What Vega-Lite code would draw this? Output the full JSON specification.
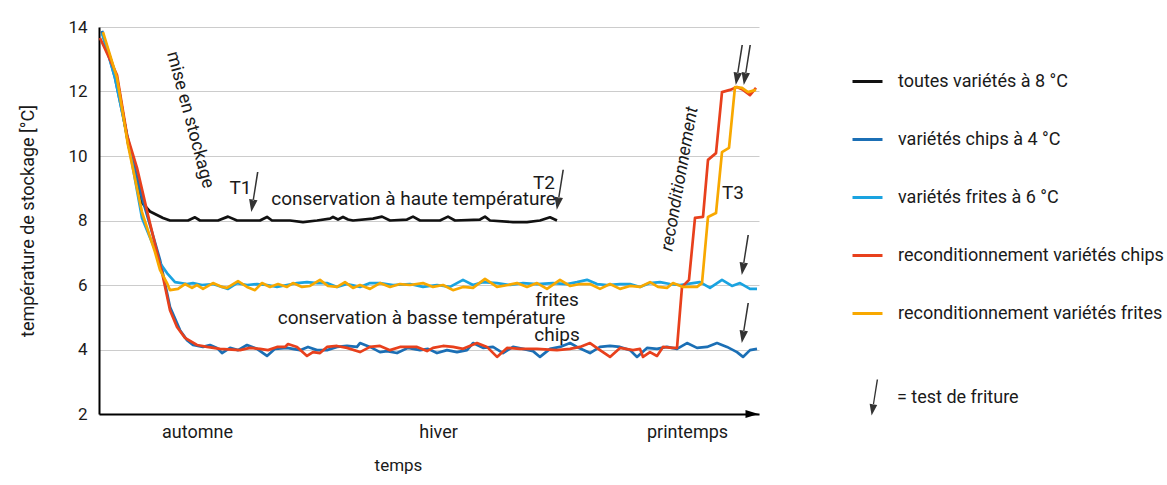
{
  "$schema": "https://vega.github.io/schema/vega-lite/v6.json",
  "width": 660,
  "height": 387,
  "autosize": {"type": "none"},
  "padding": {"left": 99, "top": 27, "right": 408, "bottom": 71},
  "background": "white",
  "config": {
    "view": {"stroke": null},
    "font": "Roboto",
    "text": {"color": "#1a1a1a"},
    "axis": {"labelColor": "#1a1a1a", "titleColor": "#1a1a1a", "titleFontWeight": "normal"},
    "legend": {"labelColor": "#1a1a1a"}
  },
  "datasets": {
    "lignes": [
      {"serie":"toutes variétés à 8 °C","t":3,"temp":13.85},{"serie":"toutes variétés à 8 °C","t":18,"temp":12.4},{"serie":"toutes variétés à 8 °C","t":29,"temp":10.4},{"serie":"toutes variétés à 8 °C","t":43,"temp":8.55},{"serie":"toutes variétés à 8 °C","t":51,"temp":8.28},{"serie":"toutes variétés à 8 °C","t":64,"temp":8.08},{"serie":"toutes variétés à 8 °C","t":71,"temp":8.0},{"serie":"toutes variétés à 8 °C","t":89,"temp":8.0},{"serie":"toutes variétés à 8 °C","t":96,"temp":8.1},{"serie":"toutes variétés à 8 °C","t":101,"temp":8.0},{"serie":"toutes variétés à 8 °C","t":119,"temp":8.0},{"serie":"toutes variétés à 8 °C","t":129,"temp":8.12},{"serie":"toutes variétés à 8 °C","t":138,"temp":8.0},{"serie":"toutes variétés à 8 °C","t":161,"temp":8.0},{"serie":"toutes variétés à 8 °C","t":168,"temp":8.11},{"serie":"toutes variétés à 8 °C","t":173,"temp":8.0},{"serie":"toutes variétés à 8 °C","t":191,"temp":8.0},{"serie":"toutes variétés à 8 °C","t":204,"temp":7.95},{"serie":"toutes variétés à 8 °C","t":218,"temp":8.0},{"serie":"toutes variétés à 8 °C","t":231,"temp":8.06},{"serie":"toutes variétés à 8 °C","t":234,"temp":8.11},{"serie":"toutes variétés à 8 °C","t":239,"temp":8.03},{"serie":"toutes variétés à 8 °C","t":244,"temp":8.11},{"serie":"toutes variétés à 8 °C","t":249,"temp":8.03},{"serie":"toutes variétés à 8 °C","t":254,"temp":8.0},{"serie":"toutes variétés à 8 °C","t":274,"temp":8.06},{"serie":"toutes variétés à 8 °C","t":283,"temp":8.12},{"serie":"toutes variétés à 8 °C","t":291,"temp":8.0},{"serie":"toutes variétés à 8 °C","t":308,"temp":8.03},{"serie":"toutes variétés à 8 °C","t":314,"temp":8.12},{"serie":"toutes variétés à 8 °C","t":321,"temp":8.0},{"serie":"toutes variétés à 8 °C","t":341,"temp":8.0},{"serie":"toutes variétés à 8 °C","t":349,"temp":8.12},{"serie":"toutes variétés à 8 °C","t":356,"temp":8.0},{"serie":"toutes variétés à 8 °C","t":381,"temp":8.03},{"serie":"toutes variétés à 8 °C","t":386,"temp":8.12},{"serie":"toutes variétés à 8 °C","t":391,"temp":8.0},{"serie":"toutes variétés à 8 °C","t":414,"temp":7.95},{"serie":"toutes variétés à 8 °C","t":428,"temp":7.95},{"serie":"toutes variétés à 8 °C","t":441,"temp":8.0},{"serie":"toutes variétés à 8 °C","t":451,"temp":8.1},{"serie":"toutes variétés à 8 °C","t":458,"temp":8.0},

      {"serie":"variétés chips à 4 °C","t":3,"temp":13.88},{"serie":"variétés chips à 4 °C","t":16,"temp":12.42},{"serie":"variétés chips à 4 °C","t":28,"temp":10.65},{"serie":"variétés chips à 4 °C","t":43,"temp":8.7},{"serie":"variétés chips à 4 °C","t":51,"temp":7.86},{"serie":"variétés chips à 4 °C","t":61,"temp":6.78},{"serie":"variétés chips à 4 °C","t":71,"temp":5.32},{"serie":"variétés chips à 4 °C","t":81,"temp":4.6},{"serie":"variétés chips à 4 °C","t":88,"temp":4.29},{"serie":"variétés chips à 4 °C","t":94,"temp":4.14},{"serie":"variétés chips à 4 °C","t":104,"temp":4.08},{"serie":"variétés chips à 4 °C","t":111,"temp":4.14},{"serie":"variétés chips à 4 °C","t":118,"temp":4.05},{"serie":"variétés chips à 4 °C","t":123,"temp":3.89},{"serie":"variétés chips à 4 °C","t":131,"temp":4.05},{"serie":"variétés chips à 4 °C","t":139,"temp":3.98},{"serie":"variétés chips à 4 °C","t":148,"temp":4.14},{"serie":"variétés chips à 4 °C","t":158,"temp":4.02},{"serie":"variétés chips à 4 °C","t":168,"temp":3.8},{"serie":"variétés chips à 4 °C","t":176,"temp":4.02},{"serie":"variétés chips à 4 °C","t":188,"temp":4.05},{"serie":"variétés chips à 4 °C","t":201,"temp":3.98},{"serie":"variétés chips à 4 °C","t":209,"temp":4.08},{"serie":"variétés chips à 4 °C","t":218,"temp":3.98},{"serie":"variétés chips à 4 °C","t":228,"temp":3.98},{"serie":"variétés chips à 4 °C","t":238,"temp":4.08},{"serie":"variétés chips à 4 °C","t":248,"temp":4.11},{"serie":"variétés chips à 4 °C","t":258,"temp":4.08},{"serie":"variétés chips à 4 °C","t":261,"temp":4.2},{"serie":"variétés chips à 4 °C","t":271,"temp":4.08},{"serie":"variétés chips à 4 °C","t":281,"temp":3.92},{"serie":"variétés chips à 4 °C","t":288,"temp":3.95},{"serie":"variétés chips à 4 °C","t":298,"temp":3.89},{"serie":"variétés chips à 4 °C","t":309,"temp":4.05},{"serie":"variétés chips à 4 °C","t":321,"temp":3.98},{"serie":"variétés chips à 4 °C","t":329,"temp":4.02},{"serie":"variétés chips à 4 °C","t":338,"temp":3.89},{"serie":"variétés chips à 4 °C","t":348,"temp":3.98},{"serie":"variétés chips à 4 °C","t":358,"temp":3.92},{"serie":"variétés chips à 4 °C","t":368,"temp":3.98},{"serie":"variétés chips à 4 °C","t":374,"temp":4.2},{"serie":"variétés chips à 4 °C","t":384,"temp":4.05},{"serie":"variétés chips à 4 °C","t":394,"temp":4.08},{"serie":"variétés chips à 4 °C","t":404,"temp":3.89},{"serie":"variétés chips à 4 °C","t":414,"temp":4.08},{"serie":"variétés chips à 4 °C","t":424,"temp":4.02},{"serie":"variétés chips à 4 °C","t":434,"temp":3.95},{"serie":"variétés chips à 4 °C","t":441,"temp":3.77},{"serie":"variétés chips à 4 °C","t":451,"temp":4.02},{"serie":"variétés chips à 4 °C","t":461,"temp":4.08},{"serie":"variétés chips à 4 °C","t":471,"temp":4.2},{"serie":"variétés chips à 4 °C","t":478,"temp":4.08},{"serie":"variétés chips à 4 °C","t":491,"temp":3.89},{"serie":"variétés chips à 4 °C","t":501,"temp":4.08},{"serie":"variétés chips à 4 °C","t":511,"temp":4.11},{"serie":"variétés chips à 4 °C","t":521,"temp":4.08},{"serie":"variétés chips à 4 °C","t":531,"temp":3.98},{"serie":"variétés chips à 4 °C","t":538,"temp":3.77},{"serie":"variétés chips à 4 °C","t":548,"temp":4.05},{"serie":"variétés chips à 4 °C","t":558,"temp":4.02},{"serie":"variétés chips à 4 °C","t":568,"temp":4.08},{"serie":"variétés chips à 4 °C","t":578,"temp":4.02},{"serie":"variétés chips à 4 °C","t":588,"temp":4.2},{"serie":"variétés chips à 4 °C","t":598,"temp":4.05},{"serie":"variétés chips à 4 °C","t":608,"temp":4.08},{"serie":"variétés chips à 4 °C","t":618,"temp":4.2},{"serie":"variétés chips à 4 °C","t":628,"temp":4.08},{"serie":"variétés chips à 4 °C","t":638,"temp":3.92},{"serie":"variétés chips à 4 °C","t":644,"temp":3.77},{"serie":"variétés chips à 4 °C","t":651,"temp":3.98},{"serie":"variétés chips à 4 °C","t":658,"temp":4.02},

      {"serie":"variétés frites à 6 °C","t":3,"temp":13.81},{"serie":"variétés frites à 6 °C","t":16,"temp":12.42},{"serie":"variétés frites à 6 °C","t":28,"temp":10.65},{"serie":"variétés frites à 6 °C","t":43,"temp":8.08},{"serie":"variétés frites à 6 °C","t":56,"temp":7.09},{"serie":"variétés frites à 6 °C","t":61,"temp":6.68},{"serie":"variétés frites à 6 °C","t":68,"temp":6.37},{"serie":"variétés frites à 6 °C","t":76,"temp":6.09},{"serie":"variétés frites à 6 °C","t":88,"temp":6.03},{"serie":"variétés frites à 6 °C","t":94,"temp":6.06},{"serie":"variétés frites à 6 °C","t":103,"temp":6.0},{"serie":"variétés frites à 6 °C","t":114,"temp":6.03},{"serie":"variétés frites à 6 °C","t":123,"temp":5.94},{"serie":"variétés frites à 6 °C","t":129,"temp":5.88},{"serie":"variétés frites à 6 °C","t":138,"temp":6.06},{"serie":"variétés frites à 6 °C","t":148,"temp":6.0},{"serie":"variétés frites à 6 °C","t":158,"temp":6.03},{"serie":"variétés frites à 6 °C","t":168,"temp":6.0},{"serie":"variétés frites à 6 °C","t":178,"temp":5.94},{"serie":"variétés frites à 6 °C","t":188,"temp":6.0},{"serie":"variétés frites à 6 °C","t":198,"temp":6.06},{"serie":"variétés frites à 6 °C","t":208,"temp":6.09},{"serie":"variétés frites à 6 °C","t":218,"temp":6.06},{"serie":"variétés frites à 6 °C","t":228,"temp":6.06},{"serie":"variétés frites à 6 °C","t":238,"temp":5.94},{"serie":"variétés frites à 6 °C","t":248,"temp":6.03},{"serie":"variétés frites à 6 °C","t":261,"temp":5.94},{"serie":"variétés frites à 6 °C","t":271,"temp":6.06},{"serie":"variétés frites à 6 °C","t":281,"temp":6.06},{"serie":"variétés frites à 6 °C","t":294,"temp":6.0},{"serie":"variétés frites à 6 °C","t":311,"temp":6.03},{"serie":"variétés frites à 6 °C","t":324,"temp":5.94},{"serie":"variétés frites à 6 °C","t":338,"temp":6.0},{"serie":"variétés frites à 6 °C","t":351,"temp":5.94},{"serie":"variétés frites à 6 °C","t":364,"temp":6.16},{"serie":"variétés frites à 6 °C","t":374,"temp":6.0},{"serie":"variétés frites à 6 °C","t":384,"temp":6.09},{"serie":"variétés frites à 6 °C","t":398,"temp":6.06},{"serie":"variétés frites à 6 °C","t":411,"temp":6.0},{"serie":"variétés frites à 6 °C","t":424,"temp":6.06},{"serie":"variétés frites à 6 °C","t":438,"temp":6.03},{"serie":"variétés frites à 6 °C","t":454,"temp":6.06},{"serie":"variétés frites à 6 °C","t":468,"temp":6.03},{"serie":"variétés frites à 6 °C","t":478,"temp":6.09},{"serie":"variétés frites à 6 °C","t":488,"temp":6.16},{"serie":"variétés frites à 6 °C","t":498,"temp":6.03},{"serie":"variétés frites à 6 °C","t":508,"temp":6.0},{"serie":"variétés frites à 6 °C","t":521,"temp":6.03},{"serie":"variétés frites à 6 °C","t":531,"temp":6.03},{"serie":"variétés frites à 6 °C","t":541,"temp":5.94},{"serie":"variétés frites à 6 °C","t":551,"temp":6.06},{"serie":"variétés frites à 6 °C","t":561,"temp":6.09},{"serie":"variétés frites à 6 °C","t":571,"temp":6.03},{"serie":"variétés frites à 6 °C","t":581,"temp":6.0},{"serie":"variétés frites à 6 °C","t":594,"temp":6.06},{"serie":"variétés frites à 6 °C","t":601,"temp":6.09},{"serie":"variétés frites à 6 °C","t":611,"temp":5.91},{"serie":"variétés frites à 6 °C","t":623,"temp":6.16},{"serie":"variétés frites à 6 °C","t":633,"temp":5.97},{"serie":"variétés frites à 6 °C","t":641,"temp":6.06},{"serie":"variétés frites à 6 °C","t":651,"temp":5.88},{"serie":"variétés frites à 6 °C","t":658,"temp":5.88},

      {"serie":"reconditionnement variétés chips","t":1,"temp":13.66},{"serie":"reconditionnement variétés chips","t":18,"temp":12.51},{"serie":"reconditionnement variétés chips","t":28,"temp":10.65},{"serie":"reconditionnement variétés chips","t":38,"temp":9.63},{"serie":"reconditionnement variétés chips","t":49,"temp":8.17},{"serie":"reconditionnement variétés chips","t":64,"temp":6.25},{"serie":"reconditionnement variétés chips","t":71,"temp":5.22},{"serie":"reconditionnement variétés chips","t":78,"temp":4.7},{"serie":"reconditionnement variétés chips","t":86,"temp":4.36},{"serie":"reconditionnement variétés chips","t":98,"temp":4.14},{"serie":"reconditionnement variétés chips","t":108,"temp":4.08},{"serie":"reconditionnement variétés chips","t":121,"temp":4.02},{"serie":"reconditionnement variétés chips","t":141,"temp":3.98},{"serie":"reconditionnement variétés chips","t":151,"temp":4.05},{"serie":"reconditionnement variétés chips","t":161,"temp":4.02},{"serie":"reconditionnement variétés chips","t":169,"temp":3.98},{"serie":"reconditionnement variétés chips","t":178,"temp":4.08},{"serie":"reconditionnement variétés chips","t":186,"temp":4.08},{"serie":"reconditionnement variétés chips","t":189,"temp":4.17},{"serie":"reconditionnement variétés chips","t":198,"temp":4.08},{"serie":"reconditionnement variétés chips","t":208,"temp":3.8},{"serie":"reconditionnement variétés chips","t":214,"temp":3.92},{"serie":"reconditionnement variétés chips","t":221,"temp":3.89},{"serie":"reconditionnement variétés chips","t":228,"temp":4.08},{"serie":"reconditionnement variétés chips","t":238,"temp":4.11},{"serie":"reconditionnement variétés chips","t":248,"temp":4.05},{"serie":"reconditionnement variétés chips","t":261,"temp":3.92},{"serie":"reconditionnement variétés chips","t":271,"temp":4.08},{"serie":"reconditionnement variétés chips","t":281,"temp":4.11},{"serie":"reconditionnement variétés chips","t":291,"temp":3.98},{"serie":"reconditionnement variétés chips","t":301,"temp":4.08},{"serie":"reconditionnement variétés chips","t":318,"temp":4.08},{"serie":"reconditionnement variétés chips","t":328,"temp":3.95},{"serie":"reconditionnement variétés chips","t":334,"temp":4.05},{"serie":"reconditionnement variétés chips","t":344,"temp":4.11},{"serie":"reconditionnement variétés chips","t":354,"temp":4.08},{"serie":"reconditionnement variétés chips","t":364,"temp":4.02},{"serie":"reconditionnement variétés chips","t":378,"temp":4.2},{"serie":"reconditionnement variétés chips","t":388,"temp":4.08},{"serie":"reconditionnement variétés chips","t":398,"temp":3.77},{"serie":"reconditionnement variétés chips","t":408,"temp":4.05},{"serie":"reconditionnement variétés chips","t":421,"temp":4.02},{"serie":"reconditionnement variétés chips","t":438,"temp":4.02},{"serie":"reconditionnement variétés chips","t":458,"temp":3.98},{"serie":"reconditionnement variétés chips","t":471,"temp":4.02},{"serie":"reconditionnement variétés chips","t":481,"temp":4.08},{"serie":"reconditionnement variétés chips","t":491,"temp":4.2},{"serie":"reconditionnement variétés chips","t":501,"temp":3.98},{"serie":"reconditionnement variétés chips","t":511,"temp":3.77},{"serie":"reconditionnement variétés chips","t":521,"temp":4.05},{"serie":"reconditionnement variétés chips","t":534,"temp":3.98},{"serie":"reconditionnement variétés chips","t":541,"temp":4.02},{"serie":"reconditionnement variétés chips","t":544,"temp":3.77},{"serie":"reconditionnement variétés chips","t":551,"temp":3.92},{"serie":"reconditionnement variétés chips","t":558,"temp":3.8},{"serie":"reconditionnement variétés chips","t":564,"temp":4.08},{"serie":"reconditionnement variétés chips","t":573,"temp":4.05},{"serie":"reconditionnement variétés chips","t":578,"temp":4.05},{"serie":"reconditionnement variétés chips","t":583,"temp":5.94},{"serie":"reconditionnement variétés chips","t":590,"temp":6.16},{"serie":"reconditionnement variétés chips","t":596,"temp":8.08},{"serie":"reconditionnement variétés chips","t":604,"temp":8.11},{"serie":"reconditionnement variétés chips","t":609,"temp":9.88},{"serie":"reconditionnement variétés chips","t":617,"temp":10.09},{"serie":"reconditionnement variétés chips","t":623,"temp":11.98},{"serie":"reconditionnement variétés chips","t":631,"temp":12.05},{"serie":"reconditionnement variétés chips","t":638,"temp":12.14},{"serie":"reconditionnement variétés chips","t":644,"temp":12.05},{"serie":"reconditionnement variétés chips","t":651,"temp":11.89},{"serie":"reconditionnement variétés chips","t":657,"temp":12.11},

      {"serie":"reconditionnement variétés frites","t":4,"temp":13.84},{"serie":"reconditionnement variétés frites","t":18,"temp":12.42},{"serie":"reconditionnement variétés frites","t":29,"temp":10.34},{"serie":"reconditionnement variétés frites","t":43,"temp":8.26},{"serie":"reconditionnement variétés frites","t":56,"temp":7.02},{"serie":"reconditionnement variétés frites","t":61,"temp":6.47},{"serie":"reconditionnement variétés frites","t":68,"temp":6.06},{"serie":"reconditionnement variétés frites","t":71,"temp":5.84},{"serie":"reconditionnement variétés frites","t":79,"temp":5.88},{"serie":"reconditionnement variétés frites","t":86,"temp":6.03},{"serie":"reconditionnement variétés frites","t":93,"temp":5.91},{"serie":"reconditionnement variétés frites","t":98,"temp":6.0},{"serie":"reconditionnement variétés frites","t":104,"temp":5.88},{"serie":"reconditionnement variétés frites","t":114,"temp":6.06},{"serie":"reconditionnement variétés frites","t":123,"temp":5.94},{"serie":"reconditionnement variétés frites","t":128,"temp":5.91},{"serie":"reconditionnement variétés frites","t":139,"temp":6.12},{"serie":"reconditionnement variétés frites","t":148,"temp":5.94},{"serie":"reconditionnement variétés frites","t":156,"temp":5.84},{"serie":"reconditionnement variétés frites","t":163,"temp":6.06},{"serie":"reconditionnement variétés frites","t":171,"temp":5.94},{"serie":"reconditionnement variétés frites","t":179,"temp":6.03},{"serie":"reconditionnement variétés frites","t":188,"temp":5.94},{"serie":"reconditionnement variétés frites","t":194,"temp":6.06},{"serie":"reconditionnement variétés frites","t":203,"temp":5.94},{"serie":"reconditionnement variétés frites","t":211,"temp":5.97},{"serie":"reconditionnement variétés frites","t":221,"temp":6.16},{"serie":"reconditionnement variétés frites","t":229,"temp":5.97},{"serie":"reconditionnement variétés frites","t":238,"temp":5.94},{"serie":"reconditionnement variétés frites","t":246,"temp":6.09},{"serie":"reconditionnement variétés frites","t":254,"temp":5.91},{"serie":"reconditionnement variétés frites","t":261,"temp":6.0},{"serie":"reconditionnement variétés frites","t":271,"temp":5.88},{"serie":"reconditionnement variétés frites","t":281,"temp":6.06},{"serie":"reconditionnement variétés frites","t":291,"temp":5.94},{"serie":"reconditionnement variétés frites","t":301,"temp":6.03},{"serie":"reconditionnement variétés frites","t":311,"temp":6.0},{"serie":"reconditionnement variétés frites","t":324,"temp":6.06},{"serie":"reconditionnement variétés frites","t":334,"temp":5.94},{"serie":"reconditionnement variétés frites","t":344,"temp":6.0},{"serie":"reconditionnement variétés frites","t":354,"temp":5.84},{"serie":"reconditionnement variétés frites","t":364,"temp":5.94},{"serie":"reconditionnement variétés frites","t":374,"temp":5.91},{"serie":"reconditionnement variétés frites","t":386,"temp":6.19},{"serie":"reconditionnement variétés frites","t":398,"temp":5.94},{"serie":"reconditionnement variétés frites","t":409,"temp":6.0},{"serie":"reconditionnement variétés frites","t":418,"temp":6.06},{"serie":"reconditionnement variétés frites","t":428,"temp":5.94},{"serie":"reconditionnement variétés frites","t":438,"temp":6.06},{"serie":"reconditionnement variétés frites","t":448,"temp":5.88},{"serie":"reconditionnement variétés frites","t":461,"temp":6.16},{"serie":"reconditionnement variétés frites","t":471,"temp":5.97},{"serie":"reconditionnement variétés frites","t":481,"temp":6.03},{"serie":"reconditionnement variétés frites","t":491,"temp":6.03},{"serie":"reconditionnement variétés frites","t":501,"temp":5.88},{"serie":"reconditionnement variétés frites","t":511,"temp":6.03},{"serie":"reconditionnement variétés frites","t":521,"temp":5.88},{"serie":"reconditionnement variétés frites","t":531,"temp":5.97},{"serie":"reconditionnement variétés frites","t":541,"temp":5.94},{"serie":"reconditionnement variétés frites","t":551,"temp":6.09},{"serie":"reconditionnement variétés frites","t":559,"temp":5.94},{"serie":"reconditionnement variétés frites","t":568,"temp":5.91},{"serie":"reconditionnement variétés frites","t":574,"temp":6.06},{"serie":"reconditionnement variétés frites","t":584,"temp":5.94},{"serie":"reconditionnement variétés frites","t":591,"temp":5.94},{"serie":"reconditionnement variétés frites","t":598,"temp":5.94},{"serie":"reconditionnement variétés frites","t":603,"temp":6.06},{"serie":"reconditionnement variétés frites","t":609,"temp":8.11},{"serie":"reconditionnement variétés frites","t":617,"temp":8.23},{"serie":"reconditionnement variétés frites","t":623,"temp":10.12},{"serie":"reconditionnement variétés frites","t":630,"temp":10.25},{"serie":"reconditionnement variétés frites","t":636,"temp":12.14},{"serie":"reconditionnement variétés frites","t":643,"temp":12.11},{"serie":"reconditionnement variétés frites","t":649,"temp":11.98},{"serie":"reconditionnement variétés frites","t":657,"temp":12.05}
    ],
    "fleches": [
      {"t":155.5,"temp":8.88,"repere":"= test de friture"},
      {"t":461,"temp":8.95,"repere":"= test de friture"},
      {"t":640,"temp":12.82,"repere":"= test de friture"},
      {"t":648,"temp":12.82,"repere":"= test de friture"},
      {"t":646,"temp":6.93,"repere":"= test de friture"},
      {"t":646,"temp":4.82,"repere":"= test de friture"}
    ],
    "textes": [
      {"t":141.5,"temp":9.02,"texte":"T1"},
      {"t":314.5,"temp":8.67,"texte":"conservation à haute température"},
      {"t":445,"temp":9.15,"texte":"T2"},
      {"t":634,"temp":8.84,"texte":"T3"},
      {"t":458,"temp":5.53,"texte":"frites"},
      {"t":322.5,"temp":4.98,"texte":"conservation à basse température"},
      {"t":458,"temp":4.45,"texte":"chips"}
    ]
  },
  "layer": [
    {
      "data": {"name": "lignes"},
      "mark": {"type": "line", "strokeWidth": 2.7, "strokeJoin": "round"},
      "encoding": {
        "x": {"field": "t", "type": "quantitative",
          "scale": {"domain": [0, 660], "nice": false, "zero": false},
          "axis": {"title": "temps", "values": [98, 339, 588],
            "labelExpr": "datum.value == 98 ? 'automne' : datum.value == 339 ? 'hiver' : 'printemps'",
            "ticks": false, "grid": false, "domainColor": "#000", "domainWidth": 2,
            "labelFontSize": 18, "labelPadding": 9, "labelFlush": false,
            "titleFontSize": 17, "titlePadding": 16, "titleX": 299}},
        "y": {"field": "temp", "type": "quantitative",
          "scale": {"domain": [2, 14], "nice": false, "zero": false},
          "axis": {"title": "température de stockage [°C]", "values": [2,4,6,8,10,12,14],
            "ticks": false, "grid": true, "gridColor": "#cccccc", "gridWidth": 1,
            "domainColor": "#000", "domainWidth": 2,
            "labelFontSize": 17, "labelPadding": 12, "titleFontSize": 18, "titlePadding": 30}},
        "color": {"field": "serie", "type": "nominal",
          "scale": {"domain": ["toutes variétés à 8 °C","variétés chips à 4 °C","variétés frites à 6 °C","reconditionnement variétés chips","reconditionnement variétés frites"],
                    "range": ["#111111","#1b6fb5","#1aa3e0","#e8401c","#f8a800"]},
          "legend": {"title": null, "orient": "none", "legendX": 752, "legendY": 38,
            "symbolType": "stroke", "symbolSize": 900, "symbolStrokeWidth": 3,
            "labelFontSize": 18, "labelOffset": 14, "rowPadding": 32, "labelLimit": 400, "padding": 0}}
      }
    },
    {
      "data": {"name": "fleches"},
      "mark": {"type": "point", "filled": true, "size": 1600, "fill": "#333333", "stroke": null, "opacity": 1},
      "encoding": {
        "x": {"field": "t", "type": "quantitative"},
        "y": {"field": "temp", "type": "quantitative"},
        "shape": {"field": "repere", "type": "nominal",
          "scale": {"range": ["M0.2,-1L-0.03,0.42L-0.1,0.41L0.12,-1Z M-0.16,1L0.15,0.41L-0.27,0.35Z"]},
          "legend": {"title": null, "orient": "none", "legendX": 757, "legendY": 352,
            "symbolSize": 1300, "symbolFillColor": "#333333", "symbolStrokeColor": "#333333",
            "symbolStrokeWidth": 0, "symbolOpacity": 1, "labelFontSize": 18, "labelOffset": 4, "padding": 0}}
      }
    },
    {
      "data": {"name": "textes"},
      "mark": {"type": "text", "fontSize": 19, "align": "center", "baseline": "middle"},
      "encoding": {
        "x": {"field": "t", "type": "quantitative"},
        "y": {"field": "temp", "type": "quantitative"},
        "text": {"field": "texte"}
      }
    },
    {
      "data": {"values": [{"t": 91, "temp": 11.12, "texte": "mise en stockage"}]},
      "mark": {"type": "text", "fontSize": 18, "align": "center", "baseline": "middle", "angle": 75},
      "encoding": {
        "x": {"field": "t", "type": "quantitative"},
        "y": {"field": "temp", "type": "quantitative"},
        "text": {"field": "texte"}
      }
    },
    {
      "data": {"values": [{"t": 581, "temp": 9.29, "texte": "reconditionnement"}]},
      "mark": {"type": "text", "fontSize": 18, "fontStyle": "italic", "align": "center", "baseline": "middle", "angle": 280},
      "encoding": {
        "x": {"field": "t", "type": "quantitative"},
        "y": {"field": "temp", "type": "quantitative"},
        "text": {"field": "texte"}
      }
    },
    {
      "data": {"values": [{"t": 653, "temp": 2}]},
      "mark": {"type": "point", "shape": "M-1,-0.6L1,0L-1,0.6Z", "size": 169, "filled": true, "fill": "#000000", "stroke": null, "opacity": 1},
      "encoding": {
        "x": {"field": "t", "type": "quantitative"},
        "y": {"field": "temp", "type": "quantitative"}
      }
    }
  ]
}
